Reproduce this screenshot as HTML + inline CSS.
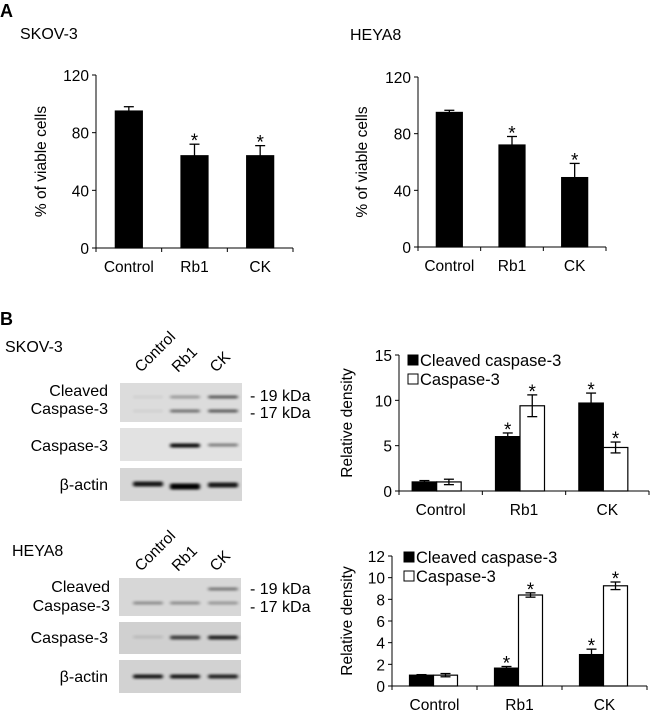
<!DOCTYPE html>
<html><head><meta charset="utf-8"><style>
body{margin:0;background:#fff}
svg{display:block;font-family:"Liberation Sans",Arial,sans-serif}
</style></head><body>
<svg id="fig" width="650" height="710" viewBox="0 0 650 710">
<defs><filter id="blur" x="-20%" y="-200%" width="140%" height="500%"><feGaussianBlur stdDeviation="1.6 1.2"/></filter></defs>
<text x="0" y="17" font-size="18" font-weight="bold">A</text>
<text x="20" y="39" font-size="16">SKOV-3</text>
<text x="350" y="40" font-size="16">HEYA8</text>
<text x="0" y="325" font-size="18" font-weight="bold">B</text>
<g id="blots"></g>
<g id="charts"></g>
</svg>
<script>
const catsA = ["Control","Rb1","CK"];
const skovViable = [95,64,64];
const skovViableErr = [3,8,7];
const heyaViable = [95,72,49];
const heyaViableErr = [1.5,6,10];
const ticksA = [0,40,80,120];
const skovCleaved = [1,6,9.7];
const skovCleavedErr = [0.15,0.4,1.1];
const skovCasp = [1,9.4,4.8];
const skovCaspErr = [0.3,1.2,0.6];
const ticksSkovB = [0,5,10,15];
const heyaCleaved = [1,1.65,2.9];
const heyaCleavedErr = [0.05,0.15,0.5];
const heyaCasp = [1,8.4,9.25];
const heyaCaspErr = [0.15,0.2,0.35];
const ticksHeyaB = [0,2,4,6,8,10,12];
const starsA1=[false,true,true], starsA2=[false,true,true];
const starsB=[[false,true,true],[false,true,true]];

const NS="http://www.w3.org/2000/svg";
const charts=document.getElementById('charts');
function el(tag,attrs,parent,text){const e=document.createElementNS(NS,tag);for(const k in attrs)e.setAttribute(k,attrs[k]);if(text!==undefined)e.textContent=text;(parent||charts).appendChild(e);return e;}

function chart(cfg){
  const g=el('g',{});
  
  
  const ymax=cfg.ticks[cfg.ticks.length-1];
  const y=v=>cfg.y0-(v/ymax)*(cfg.y0-cfg.yTop);
  const n=cfg.cats.length, bw=(cfg.x1-cfg.x0)/n;
  const cx=i=>cfg.x0+bw*(i+0.5);
  const ya=el('line',{x1:cfg.x0,y1:cfg.yTop,x2:cfg.x0,y2:cfg.y0,stroke:'#000','stroke-width':1},g);
  
  const xa=el('line',{x1:cfg.x0,y1:cfg.y0,x2:cfg.x1,y2:cfg.y0,stroke:'#000','stroke-width':1},g);
  
  cfg.ticks.forEach(t=>{
    el('line',{x1:cfg.x0-4,y1:y(t),x2:cfg.x0,y2:y(t),stroke:'#000'},g);
    const tl=el('text',{x:cfg.x0-7,y:y(t)+6,'font-size':cfg.fs,'text-anchor':'end'},g,t);
    
  });
  for(let i=0;i<=n;i++) el('line',{x1:cfg.x0+bw*i,y1:cfg.y0,x2:cfg.x0+bw*i,y2:cfg.y0+4,stroke:'#000'},g);
  cfg.cats.forEach((c,i)=>{
    const xl=el('text',{x:cx(i),y:cfg.y0+cfg.labOff,'font-size':cfg.fs,'text-anchor':'middle'},g,c);
    
  });
  const yt=el('text',{transform:`translate(${cfg.ylabX},${(cfg.y0+cfg.yTop)/2}) rotate(-90)`,'font-size':cfg.fs,'text-anchor':'middle'},g,cfg.ylab);
  
  const ns=cfg.series.length, w=cfg.barW;
  cfg.series.forEach((s,si)=>{
    s.vals.forEach((v,i)=>{
      const left=cx(i)-ns*w/2+si*w+(cfg.shift||0);
      const b=el('rect',{x:left,y:y(v),width:w,height:cfg.y0-y(v),fill:s.fill,stroke:'#000','stroke-width':1.2},g);
      
      
      const m=left+w/2, e=s.err[i];
      const top=y(v+e), bot=s.twoSided?y(v-e):y(v);
      el('line',{x1:m,y1:top,x2:m,y2:bot,stroke:'#000','stroke-width':1.3},g);
      el('line',{x1:m-5,y1:top,x2:m+5,y2:top,stroke:'#000','stroke-width':1.3},g);
      if(s.twoSided) el('line',{x1:m-5,y1:bot,x2:m+5,y2:bot,stroke:'#000','stroke-width':1.3},g);
      if(s.stars[i]){const st=el('text',{x:m,y:top+3,'font-size':19,'text-anchor':'middle'},g,'*');
        }
    });
  });
  if(cfg.legend){
    cfg.series.forEach((s,si)=>{
      const ly=cfg.legend.y+si*19;
      const lg=el('g',{},g);
      
      el('rect',{x:cfg.legend.x,y:ly-11,width:10,height:10,fill:s.fill,stroke:'#000'},lg);
      el('text',{x:cfg.legend.x+12,y:ly,'font-size':16.5},lg,s.label);
    });
  }
}
chart({name:'chart-skov3-viability',cats:catsA,ticks:ticksA,x0:96,x1:293,y0:248,yTop:75,fs:15.5,labOff:24,ylab:'% of viable cells',ylabX:46,barW:27,
  series:[{key:'viable',fill:'#000',vals:skovViable,err:skovViableErr,stars:starsA1}]});
chart({name:'chart-heya8-viability',cats:catsA,ticks:ticksA,x0:418,x1:606,y0:247,yTop:77,fs:15.5,labOff:24,ylab:'% of viable cells',ylabX:367,barW:26,
  series:[{key:'viable',fill:'#000',vals:heyaViable,err:heyaViableErr,stars:starsA2}]});
chart({name:'chart-skov3-density',cats:catsA,ticks:ticksSkovB,x0:399,x1:649,y0:491,yTop:355,fs:15.5,labOff:24,ylab:'Relative density',ylabX:352,barW:24.5,shift:-4,
  legend:{x:408,y:366},
  series:[{key:'cleaved',label:'Cleaved caspase-3',fill:'#000',vals:skovCleaved,err:skovCleavedErr,stars:starsB[0],twoSided:true},
          {key:'caspase',label:'Caspase-3',fill:'#fff',vals:skovCasp,err:skovCaspErr,stars:starsB[1],twoSided:true}]});
chart({name:'chart-heya8-density',cats:catsA,ticks:ticksHeyaB,x0:392,x1:647,y0:686,yTop:556,fs:15.5,labOff:24,ylab:'Relative density',ylabX:352,barW:24,shift:-1,
  legend:{x:404,y:563},
  series:[{key:'cleaved',label:'Cleaved caspase-3',fill:'#000',vals:heyaCleaved,err:heyaCleavedErr,stars:starsB[0],twoSided:true},
          {key:'caspase',label:'Caspase-3',fill:'#fff',vals:heyaCasp,err:heyaCaspErr,stars:starsB[1],twoSided:true}]});

const blots=document.getElementById('blots');
const laneX=[148,185,223];
function blot(name,x,y,h,bg,bands){
  const g=el('g',{},blots);
  
  el('rect',{x:x,y:y,width:122,height:h,fill:bg},g);
  bands.forEach(b=>{ if(b[2]>0) el('rect',{x:laneX[b[0]]-15,y:y+b[1]-1.5,width:30,height:b[3]||3,fill:'#000',opacity:b[2],filter:'url(#blur)',rx:2},g);});
}
function label(t,x,y,anchor,fs,name){const e=el('text',{x:x,y:y,'font-size':fs||16,'text-anchor':anchor||'end'},blots,t);}
function lanes(y,name){['Control','Rb1','CK'].forEach((t,i)=>{const e=el('text',{transform:`translate(${laneX[i]-7},${y}) rotate(-45)`,'font-size':15.5},blots,t);});}
label('SKOV-3',5,352,'start',16,'skov3-title-b');
lanes(373,'skov3-lane-label');
blot('skov3-cleaved-blot',120,383,39,'#dcdcdc',[[0,14,0.05],[0,28,0.05],[1,14,0.3],[1,28,0.5],[2,14,0.6],[2,28,0.6]]);
blot('skov3-caspase-blot',120,428,33,'#e2e2e2',[[1,17,0.95,4],[2,17,0.45]]);
blot('skov3-actin-blot',120,468,33,'#d6d6d6',[[0,15,0.9,5],[1,17,1,6],[2,16,0.9,5]]);
label('Cleaved',108,396);label('Caspase-3',108,414);label('Caspase-3',108,451);label('β-actin',108,490);
label('- 19 kDa',250,401,'start',16,'kda-19');label('- 17 kDa',250,418,'start',16,'kda-17');
label('HEYA8',12,556,'start',16,'heya8-title-b');
lanes(572,'heya8-lane-label');
blot('heya8-cleaved-blot',119,578,38,'#d7d7d7',[[0,25,0.35],[1,25,0.35],[2,11,0.45],[2,25,0.3]]);
blot('heya8-caspase-blot',119,622,32,'#d0d0d0',[[0,15,0.1],[1,15,0.7,4],[2,15,0.85,4]]);
blot('heya8-actin-blot',119,660,33,'#d2d2d2',[[0,16,0.9,4],[1,16,0.9,4],[2,16,0.85,4]]);
label('Cleaved',110,592);label('Caspase-3',110,611);label('Caspase-3',108,643);label('β-actin',108,682);
label('- 19 kDa',250,594,'start',16,'kda-19-heya8');label('- 17 kDa',250,612,'start',16,'kda-17-heya8');
</script>
</body></html>
